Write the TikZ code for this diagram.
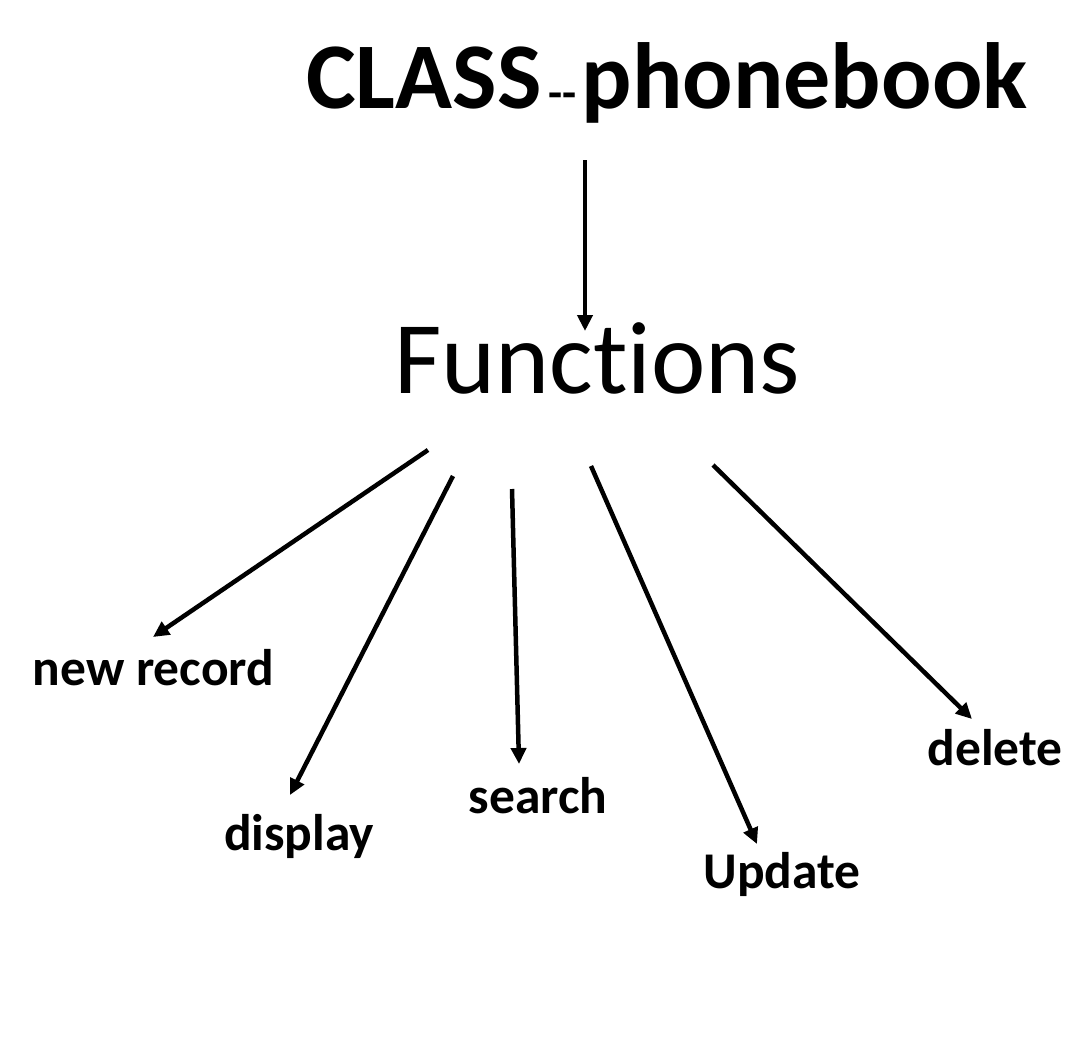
\documentclass[tikz,border=0pt]{standalone}
\usepackage{fontspec}
\setmainfont{Carlito}[Ligatures={TeX,NoCommon}]
\usetikzlibrary{arrows.meta}
\tikzset{
  conn/.style={line width=4.5pt, -{Triangle[length=16pt,width=15pt]}},
  lbl/.style={font=\fontsize{51.5}{56}\selectfont\bfseries, inner sep=0pt, anchor=base},
}
\begin{document}
\begin{tikzpicture}[x=1pt,y=-1pt]
\useasboundingbox (0,0) rectangle (1079,1045);
\fill[white] (0,0) rectangle (1079,1045);
% title
\node[inner sep=0pt, anchor=base west] (title) at (306,108)
  {\bfseries\fontsize{94}{100}\selectfont CLASS\hspace{7pt}{\fontsize{46}{50}\selectfont -{}-}\hspace{5pt}phonebook};
\node[inner sep=0pt, anchor=base, font=\fontsize{103}{110}\selectfont] (func) at (597,393) {Functions};
% labels
\node[lbl] (newrec) at (153.5,685) {new record};
\node[lbl] (disp) at (299,850) {display};
\node[lbl] (search) at (538,813) {search};
\node[lbl] (upd) at (782,888) {Update};
\node[lbl] (del) at (995,765) {delete};
% connector end points
\coordinate (t0) at (585,160);
\coordinate (t1) at (585,331);
\coordinate (a0) at (428,450);
\coordinate (a1) at (153,637);
\coordinate (b0) at (453,476);
\coordinate (b1) at (290,795);
\coordinate (c0) at (512,489);
\coordinate (c1) at (519,764);
\coordinate (d0) at (591,466);
\coordinate (d1) at (757,844);
\coordinate (e0) at (713,465);
\coordinate (e1) at (972,719);
\draw[conn] (t0) -- (t1);
\draw[conn] (a0) -- (a1);
\draw[conn] (b0) -- (b1);
\draw[conn] (c0) -- (c1);
\draw[conn] (d0) -- (d1);
\draw[conn] (e0) -- (e1);
\end{tikzpicture}
\end{document}
